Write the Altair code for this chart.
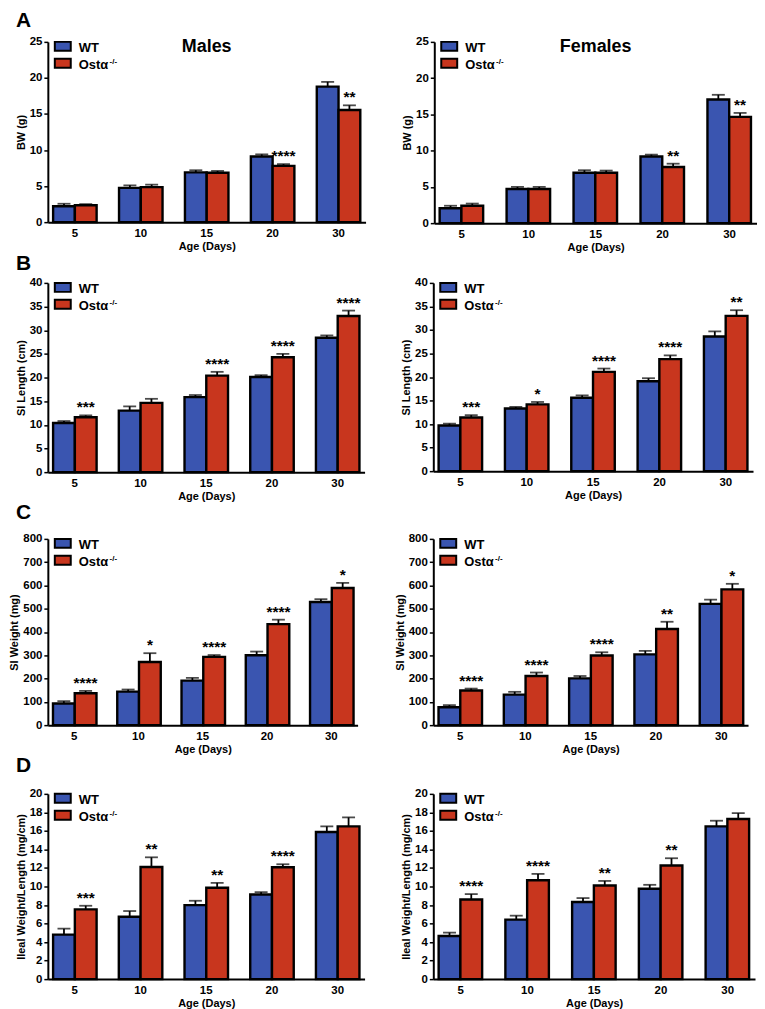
import altair as alt
import pandas as pd

# ---------------- data ----------------
ages = ["5", "10", "15", "20", "30"]
genotypes = ["WT", "KO"]
legend_labels = ["WT", "Ostα"]
legend_sup = "-/-"
x_title = "Age (Days)"
panel_letters = ["A", "B", "C", "D"]
sex_titles = ["Males", "Females"]

# A: body weight (g)
bw_m_wt = [2.2, 4.75, 6.9, 9.1, 18.8]
bw_m_wt_sem = [0.35, 0.35, 0.3, 0.3, 0.65]
bw_m_ko = [2.35, 4.85, 6.85, 7.8, 15.55]
bw_m_ko_sem = [0.15, 0.35, 0.25, 0.25, 0.65]
bw_m_stars = ["", "", "", "****", "**"]

bw_f_wt = [2.05, 4.7, 6.95, 9.2, 17.05]
bw_f_wt_sem = [0.35, 0.3, 0.35, 0.25, 0.65]
bw_f_ko = [2.4, 4.7, 6.95, 7.75, 14.65]
bw_f_ko_sem = [0.3, 0.3, 0.3, 0.45, 0.55]
bw_f_stars = ["", "", "", "**", "**"]

# B: SI length (cm)
sl_m_wt = [10.4, 13.0, 15.85, 20.1, 28.4]
sl_m_wt_sem = [0.4, 0.9, 0.45, 0.4, 0.5]
sl_m_ko = [11.6, 14.65, 20.4, 24.3, 33.0]
sl_m_ko_sem = [0.4, 0.85, 0.8, 0.7, 1.15]
sl_m_stars = ["***", "", "****", "****", "****"]

sl_f_wt = [9.7, 13.3, 15.6, 19.1, 28.6]
sl_f_wt_sem = [0.4, 0.35, 0.5, 0.65, 1.1]
sl_f_ko = [11.4, 14.2, 21.1, 23.8, 33.0]
sl_f_ko_sem = [0.5, 0.5, 0.7, 0.8, 1.2]
sl_f_stars = ["***", "*", "****", "****", "**"]

# C: SI weight (mg)
sw_m_wt = [93, 144, 191, 300, 529]
sw_m_wt_sem = [10, 9, 12, 16, 12]
sw_m_ko = [137, 271, 293, 434, 589]
sw_m_ko_sem = [10, 38, 8, 19, 22]
sw_m_stars = ["****", "*", "****", "****", "*"]

sw_f_wt = [77, 131, 201, 304, 521]
sw_f_wt_sem = [9, 12, 10, 15, 18]
sw_f_ko = [149, 211, 299, 413, 583]
sw_f_ko_sem = [8, 15, 14, 31, 24]
sw_f_stars = ["****", "****", "****", "**", "*"]

# D: ileal weight / length (mg/cm)
il_m_wt = [4.8, 6.74, 7.99, 9.14, 15.88]
il_m_wt_sem = [0.65, 0.61, 0.47, 0.25, 0.61]
il_m_ko = [7.53, 12.11, 9.86, 12.08, 16.49]
il_m_ko_sem = [0.39, 1.04, 0.53, 0.32, 0.97]
il_m_stars = ["***", "**", "**", "****", ""]

il_f_wt = [4.66, 6.42, 8.32, 9.75, 16.49]
il_f_wt_sem = [0.36, 0.43, 0.43, 0.43, 0.61]
il_f_ko = [8.6, 10.68, 10.11, 12.26, 17.28]
il_f_ko_sem = [0.58, 0.68, 0.49, 0.79, 0.64]
il_f_stars = ["****", "****", "**", "**", ""]

BLUE = "#3A55B0"
RED = "#C8361E"
FONT = "Liberation Sans"


def make_df(wt, wt_sem, ko, ko_sem, stars):
    rows = []
    for i, a in enumerate(ages):
        rows.append(dict(age=a, geno="WT", mean=wt[i], top=wt[i] + wt_sem[i], star=""))
        rows.append(dict(age=a, geno="KO", mean=ko[i], top=ko[i] + ko_sem[i], star=stars[i]))
    return pd.DataFrame(rows)


ONE = alt.Data(values=[{"k": 0}])


def panel(df, ytitle, ymax, ystep, w, h, header=None, letter=None, letter_y=-20):
    xaxis = alt.Axis(title=x_title, ticks=False, labelAngle=0, labelPadding=5,
                     titlePadding=2, labelFontSize=11.5)
    xscale = alt.Scale(paddingInner=0.34, paddingOuter=0.08)
    x = alt.X("age:N", sort=ages, scale=xscale, axis=xaxis)
    xo = alt.XOffset("geno:N", sort=genotypes,
                     scale=alt.Scale(domain=genotypes, paddingInner=0, paddingOuter=0))
    yscale = alt.Scale(domain=[0, ymax], nice=False, zero=True)
    yaxis = alt.Axis(title=ytitle, values=list(range(0, ymax + 1, ystep)),
                     labelOverlap=False, titlePadding=3)
    y_mean = alt.Y("mean:Q", scale=yscale, axis=yaxis)
    y_top = alt.Y("top:Q", scale=yscale, axis=yaxis)
    color = alt.Color("geno:N", scale=alt.Scale(domain=genotypes, range=[BLUE, RED]), legend=None)
    base = alt.Chart(df)
    bars = base.mark_bar(stroke="black", strokeWidth=2.4).encode(x=x, xOffset=xo, y=y_mean, color=color)
    err = base.mark_rule(color="black", strokeWidth=1.8).encode(
        x=x, xOffset=xo, y=y_mean, y2="top:Q")
    cap = base.mark_tick(color="black", thickness=1.8, size=13).encode(
        x=x, xOffset=xo, y=y_top)
    star = base.mark_text(font=FONT, fontWeight="bold", fontSize=15.5, baseline="alphabetic",
                          dy=-3, color="black").encode(
        x=x, xOffset=xo, y=y_top, text="star:N")

    sw1 = alt.Chart(ONE).mark_rect(fill=BLUE, stroke="black", strokeWidth=2).encode(
        x=alt.value(7), x2=alt.value(23), y=alt.value(0), y2=alt.value(9))
    sw2 = alt.Chart(ONE).mark_rect(fill=RED, stroke="black", strokeWidth=2).encode(
        x=alt.value(7), x2=alt.value(23), y=alt.value(17), y2=alt.value(26))
    t1 = alt.Chart(ONE).mark_text(font=FONT, fontWeight="bold", fontSize=13, align="left",
                                  baseline="alphabetic", color="black").encode(
        x=alt.value(31), y=alt.value(10), text=alt.value(legend_labels[0]))
    t2 = alt.Chart(ONE).mark_text(font=FONT, fontWeight="bold", fontSize=13, align="left",
                                  baseline="alphabetic", color="black").encode(
        x=alt.value(31), y=alt.value(27), text=alt.value(legend_labels[1]))
    t3 = alt.Chart(ONE).mark_text(font=FONT, fontWeight="bold", fontSize=8, align="left",
                                  baseline="alphabetic", color="black").encode(
        x=alt.value(62), y=alt.value(22), text=alt.value(legend_sup))
    layers = [bars, err, cap, star, sw1, sw2, t1, t2, t3]
    if header:
        layers.append(alt.Chart(ONE).mark_text(font=FONT, fontWeight="bold", fontSize=18,
                                               baseline="alphabetic", color="black").encode(
            x=alt.value(w / 2), y=alt.value(10), text=alt.value(header)))
    if letter:
        layers.append(alt.Chart(ONE).mark_text(font=FONT, fontWeight="bold", fontSize=21,
                                               align="left", baseline="alphabetic",
                                               color="black").encode(
            x=alt.value(-32), y=alt.value(letter_y), text=alt.value(letter)))
    return alt.layer(*layers).properties(width=w, height=h)


rowA = alt.hconcat(
    panel(make_df(bw_m_wt, bw_m_wt_sem, bw_m_ko, bw_m_ko_sem, bw_m_stars), "BW (g)", 25, 5,
          319, 181, header=sex_titles[0], letter=panel_letters[0], letter_y=-15),
    panel(make_df(bw_f_wt, bw_f_wt_sem, bw_f_ko, bw_f_ko_sem, bw_f_stars), "BW (g)", 25, 5,
          324, 182, header=sex_titles[1]),
    spacing=36,
)
rowB = alt.hconcat(
    panel(make_df(sl_m_wt, sl_m_wt_sem, sl_m_ko, sl_m_ko_sem, sl_m_stars), "SI Length (cm)", 40, 5,
          318, 190, letter=panel_letters[1], letter_y=-13),
    panel(make_df(sl_f_wt, sl_f_wt_sem, sl_f_ko, sl_f_ko_sem, sl_f_stars), "SI Length (cm)", 40, 5,
          321, 189),
    spacing=36,
)
rowC = alt.hconcat(
    panel(make_df(sw_m_wt, sw_m_wt_sem, sw_m_ko, sw_m_ko_sem, sw_m_stars), "SI Weight (mg)", 800, 100,
          311, 187, letter=panel_letters[2], letter_y=-20),
    panel(make_df(sw_f_wt, sw_f_wt_sem, sw_f_ko, sw_f_ko_sem, sw_f_stars), "SI Weight (mg)", 800, 100,
          316, 187),
    spacing=36,
)
rowD = alt.hconcat(
    panel(make_df(il_m_wt, il_m_wt_sem, il_m_ko, il_m_ko_sem, il_m_stars),
          "Ileal Weight/Length (mg/cm)", 20, 2, 318, 186, letter=panel_letters[3], letter_y=-22),
    panel(make_df(il_f_wt, il_f_wt_sem, il_f_ko, il_f_ko_sem, il_f_stars),
          "Ileal Weight/Length (mg/cm)", 20, 2, 323, 186),
    spacing=36,
)

chart = alt.vconcat(rowA, rowB, rowC, rowD, spacing=0).properties(
    padding={"left": 0, "top": 0, "right": 0, "bottom": 0}, background="white"
).configure_view(stroke=None).configure_axis(
    domainColor="black", domainWidth=2, tickColor="black", tickWidth=1.5, tickSize=4,
    labelFont=FONT, labelFontWeight="bold", labelFontSize=11.5, labelColor="black",
    labelPadding=2, labelOverlap=False, titleFont=FONT, titleFontWeight="bold", titleFontSize=11,
    titleColor="black", grid=False,
)

chart.save("out.html", embed_options={"renderer": "svg", "actions": False})
